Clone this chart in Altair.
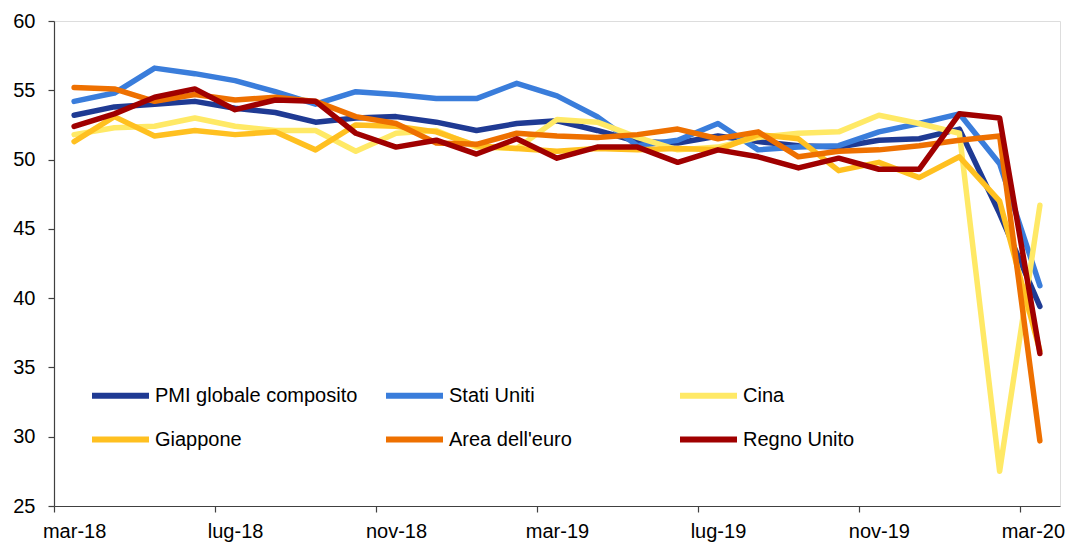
import altair as alt
import pandas as pd

months = ["mar-18", "apr-18", "mag-18", "giu-18", "lug-18", "ago-18", "set-18", "ott-18",
          "nov-18", "dic-18", "gen-19", "feb-19", "mar-19", "apr-19", "mag-19", "giu-19",
          "lug-19", "ago-19", "set-19", "ott-19", "nov-19", "dic-19", "gen-20", "feb-20", "mar-20"]

series_names = ["PMI globale composito", "Stati Uniti", "Cina", "Giappone", "Area dell'euro", "Regno Unito"]
series_colors = ["#1F3A93", "#3A7DDB", "#FFE966", "#FFC020", "#EE7000", "#A00000"]

pmi_globale = [53.2, 53.8, 54.0, 54.2, 53.7, 53.4, 52.7, 53.0, 53.1, 52.7, 52.1, 52.6, 52.8,
               52.1, 51.3, 51.2, 51.7, 51.3, 51.0, 50.9, 51.4, 51.5, 52.2, 46.1, 39.4]
stati_uniti = [54.2, 54.8, 56.6, 56.2, 55.7, 54.9, 54.0, 54.9, 54.7, 54.4, 54.4, 55.5, 54.6,
               53.1, 51.0, 51.4, 52.6, 50.7, 50.9, 51.0, 52.0, 52.6, 53.3, 49.7, 40.9]
cina = [51.8, 52.3, 52.4, 53.0, 52.4, 52.1, 52.1, 50.6, 51.9, 52.1, 50.9, 50.8, 52.9,
        52.7, 51.6, 50.7, 50.9, 51.6, 51.9, 52.0, 53.2, 52.6, 51.9, 27.5, 46.7]
giappone = [51.3, 53.1, 51.7, 52.1, 51.8, 52.0, 50.7, 52.5, 52.4, 52.0, 51.0, 50.8, 50.6,
            50.8, 50.7, 50.8, 50.7, 51.8, 51.5, 49.2, 49.8, 48.7, 50.2, 47.0, 36.2]
area_euro = [55.2, 55.1, 54.2, 54.7, 54.3, 54.5, 54.2, 53.1, 52.6, 51.2, 51.1, 51.9, 51.7,
             51.6, 51.8, 52.2, 51.5, 52.0, 50.2, 50.6, 50.7, 51.0, 51.4, 51.7, 29.7]
regno_unito = [52.4, 53.3, 54.5, 55.1, 53.6, 54.3, 54.2, 51.9, 50.9, 51.4, 50.4, 51.5, 50.1,
               50.9, 50.9, 49.8, 50.7, 50.2, 49.4, 50.1, 49.3, 49.3, 53.3, 53.0, 36.0]

y_ticks = [25, 30, 35, 40, 45, 50, 55, 60]
x_label_idx = [0, 4, 8, 12, 16, 20, 24]

all_values = [pmi_globale, stati_uniti, cina, giappone, area_euro, regno_unito]
rows = []
for name, vals in zip(series_names, all_values):
    for i, v in enumerate(vals):
        rows.append({"idx": i, "mese": months[i], "serie": name, "valore": v})
df = pd.DataFrame(rows)

W = 1006
H = 485
unit = W / len(months)
last_idx = len(months) - 1

label_array = "[" + ",".join("'" + m + "'" for m in months) + "]"
FONT = "Liberation Sans"

x_enc = alt.X("idx:Q",
              scale=alt.Scale(domain=[-0.5, len(months) - 0.5], nice=False, zero=False),
              axis=alt.Axis(values=x_label_idx, title=None, grid=False,
                            labelExpr=label_array + "[datum.value]",
                            tickOffset=-unit / 2,
                            labelOffset={"condition": {"test": f"datum.value == {last_idx}",
                                                       "value": unit / 2 - 7},
                                         "value": unit / 2},
                            tickSize=6, labelPadding=9, labelFontSize=20, labelFont=FONT,
                            labelColor="#000000", domainColor="#404040", tickColor="#404040",
                            domainWidth=1.2, tickWidth=1.2,
                            labelFlush=False, labelOverlap=False))
y_enc = alt.Y("valore:Q",
              scale=alt.Scale(domain=[25, 60], nice=False, zero=False),
              axis=alt.Axis(values=y_ticks, title=None, grid=False,
                            tickSize=6, labelPadding=13, labelFontSize=20, labelFont=FONT,
                            labelColor="#000000", domainColor="#404040", tickColor="#404040",
                            domainWidth=1.2, tickWidth=1.2))
color_enc = alt.Color("serie:N",
                      scale=alt.Scale(domain=series_names, range=series_colors),
                      legend=alt.Legend(title=None, orient="none", legendX=35, legendY=343,
                                        direction="horizontal", columns=3, gridAlign="all",
                                        columnPadding=16, rowPadding=-6, padding=0,
                                        symbolType="stroke", symbolSize=3249,
                                        symbolStrokeWidth=6, labelOffset=3,
                                        labelFontSize=20, labelFont=FONT, labelColor="#000000",
                                        labelLimit=400))

base = alt.Chart(df).mark_line(strokeWidth=5.5, strokeCap="round", strokeJoin="round").encode(
    x=x_enc, y=y_enc, color=color_enc
)

layers = [base.transform_filter(alt.datum.serie == s) for s in series_names]

chart = alt.layer(*layers).properties(
    width=W, height=H,
    autosize=alt.AutoSizeParams(type="none"),
    padding={"left": 46, "top": 13, "right": 7, "bottom": 36},
).configure_view(stroke=None).configure(background="white")

chart.save("out.html", embed_options={"renderer": "svg", "actions": False})
